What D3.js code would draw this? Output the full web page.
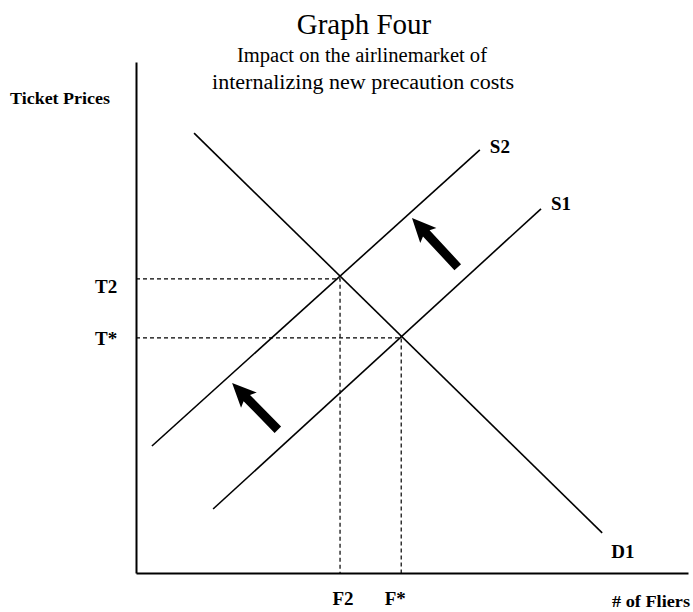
<!DOCTYPE html>
<html>
<head>
<meta charset="utf-8">
<script src="https://cdn.jsdelivr.net/npm/d3@7"></script>
<style>
  body { margin: 0; background: #fff; }
  svg text { font-family: "Liberation Serif", "Times New Roman", serif; fill: #000; }
</style>
</head>
<body>
<div id="chart-area"></div>
<script>
// curves: name, start point [qty, price], end point [qty, price]
const curveNames = ["D1", "S2", "S1"];
const curveStarts = [[11.3, 86.0], [3.1, 24.4], [15.0, 12.0]];
const curveEnds = [[90.7, 7.3], [66.9, 82.7], [78.8, 71.1]];

// equilibrium points (qty, price) and their tick labels
const eqQty = [39.7, 51.6];
const eqPrice = [57.3, 45.7];
const qtyLabels = ["F2", "F*"];
const priceLabels = ["T2", "T*"];

// shift arrows: tail -> head
const arrowTails = [[62.6, 59.6], [27.6, 27.6]];
const arrowHeads = [[53.7, 69.3], [18.7, 36.8]];

const W = 693, H = 612;
const margin = { top: 62, right: 5, bottom: 39, left: 136 };
const width = W - margin.left - margin.right,
  height = H - margin.top - margin.bottom;

const svg = d3
  .select("#chart-area")
  .append("svg")
  .attr("width", W)
  .attr("height", H);

const g = svg.append("g").attr("transform", `translate(${margin.left}, ${margin.top})`);

// Scales
const xScale = d3.scaleLinear().domain([0, 107.4]).range([0, width]);
const yScale = d3.scaleLinear().domain([-0.6, 100]).range([height, 0]);

// Titles
svg.append("text")
  .attr("x", 364).attr("y", 34)
  .attr("text-anchor", "middle")
  .attr("font-size", "29px")
  .text("Graph Four");

svg.append("text")
  .attr("x", 362).attr("y", 62)
  .attr("text-anchor", "middle")
  .attr("font-size", "20px")
  .attr("textLength", 250)
  .attr("lengthAdjust", "spacingAndGlyphs")
  .text("Impact on the airlinemarket of");

svg.append("text")
  .attr("x", 363).attr("y", 89)
  .attr("text-anchor", "middle")
  .attr("font-size", "20px")
  .attr("textLength", 302)
  .attr("lengthAdjust", "spacingAndGlyphs")
  .text("internalizing new precaution costs");

// Axis labels
svg.append("text")
  .attr("x", 10).attr("y", 104)
  .attr("font-size", "17px")
  .attr("font-weight", "bold")
  .attr("textLength", 100)
  .attr("lengthAdjust", "spacingAndGlyphs")
  .text("Ticket Prices");

svg.append("text")
  .attr("x", 612).attr("y", 607)
  .attr("font-size", "17px")
  .attr("font-weight", "bold")
  .attr("textLength", 78)
  .attr("lengthAdjust", "spacingAndGlyphs")
  .text("# of Fliers");

// Axes (plain lines, no ticks)
const xAxisCall = d3.axisBottom(xScale).tickValues([]).tickSizeOuter(0);
g.append("g")
  .attr("class", "x axis")
  .attr("transform", `translate(0,${height})`)
  .call(xAxisCall)
  .select(".domain")
  .attr("stroke-width", 2);

const yAxisCall = d3.axisLeft(yScale).tickValues([]).tickSizeOuter(0);
g.append("g")
  .attr("class", "y axis")
  .call(yAxisCall)
  .select(".domain")
  .attr("stroke-width", 2);

// Dashed guides from axes to equilibria
const priceLabelDy = [14, 7];
const qtyLabelDx = [3, -6];
const y0 = yScale.domain()[0];
eqQty.forEach((q, i) => {
  const p = eqPrice[i];
  g.append("path")
    .attr("d", d3.line()([[xScale(0), yScale(p)], [xScale(q), yScale(p)], [xScale(q), yScale(y0)]]))
    .attr("fill", "none")
    .attr("stroke", "#000")
    .attr("stroke-width", 1.2)
    .attr("stroke-dasharray", "4,3");

  g.append("text")
    .attr("x", xScale(0) - 41).attr("y", yScale(p) + priceLabelDy[i])
    .attr("font-size", "19px")
    .attr("font-weight", "bold")
    .text(priceLabels[i]);

  g.append("text")
    .attr("x", xScale(q) + qtyLabelDx[i]).attr("y", height + 32)
    .attr("text-anchor", "middle")
    .attr("font-size", "19px")
    .attr("font-weight", "bold")
    .text(qtyLabels[i]);
});

// Supply and demand curves
const line = d3.line().x(d => xScale(d[0])).y(d => yScale(d[1]));
curveNames.forEach((name, i) => {
  g.append("path")
    .attr("d", line([curveStarts[i], curveEnds[i]]))
    .attr("fill", "none")
    .attr("stroke", "#000")
    .attr("stroke-width", 1.6);
});

// curve labels
const labelOffsets = { D1: [9, 25], S2: [10, 3], S1: [10, 1] };
curveNames.forEach((name, i) => {
  const e = curveEnds[i];
  g.append("text")
    .attr("x", xScale(e[0]) + labelOffsets[name][0])
    .attr("y", yScale(e[1]) + labelOffsets[name][1])
    .attr("font-size", "19px")
    .attr("font-weight", "bold")
    .text(name);
});

// Thick arrows showing the supply shift
arrowTails.forEach((t, i) => {
  const x0 = xScale(t[0]), ya = yScale(t[1]);
  const x1 = xScale(arrowHeads[i][0]), y1 = yScale(arrowHeads[i][1]);
  const len = Math.hypot(x1 - x0, y1 - ya);
  const ang = Math.atan2(y1 - ya, x1 - x0) * 180 / Math.PI;
  const headLen = 21, shaft = 4.5, headW = 11;
  g.append("path")
    .attr("transform", `translate(${x0},${ya}) rotate(${ang})`)
    .attr("d", `M0,${-shaft} L${len - headLen},${-shaft} L${len - headLen - 3},${-headW} L${len},0 L${len - headLen - 3},${headW} L${len - headLen},${shaft} L0,${shaft} Z`)
    .attr("fill", "#000");
});
</script>
</body>
</html>
